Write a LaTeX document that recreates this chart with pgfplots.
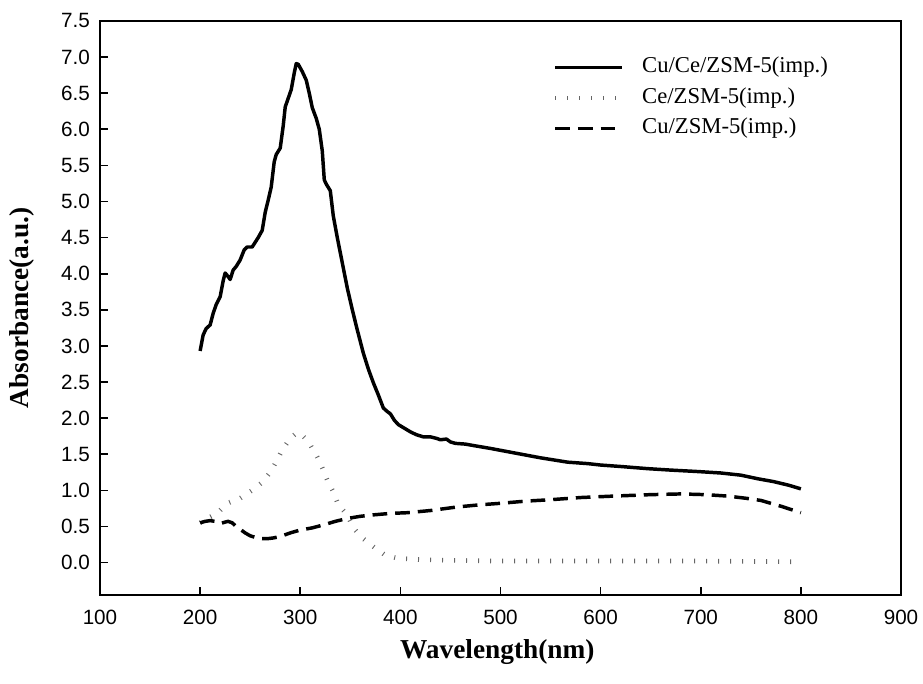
\documentclass[border=0pt]{standalone}
\usepackage{fontspec}
\setmainfont{Liberation Serif}
\newfontfamily\arialf{Liberation Sans}
\usepackage{pgfplots}
\pgfplotsset{compat=1.18}

\pgfplotstableread{
x y
200 2.93
203 3.15
206 3.24
210 3.29
213 3.45
216 3.57
220 3.68
223 3.90
225 4.01
228 3.96
230 3.92
233 4.05
236 4.10
240 4.19
244 4.33
247 4.37
252 4.37
258 4.50
262 4.60
265 4.85
268 5.02
271 5.20
274 5.55
276 5.65
280 5.74
283 6.05
285 6.31
288 6.43
291 6.55
294 6.78
296 6.91
298 6.90
302 6.80
306 6.68
309 6.50
312 6.30
316 6.15
319 6.00
322 5.70
324 5.30
326 5.24
330 5.15
333 4.80
337 4.50
342 4.15
347 3.80
352 3.50
357 3.22
363 2.90
368 2.68
373 2.49
378 2.32
383 2.14
387 2.09
390 2.06
394 1.97
398 1.91
404 1.86
410 1.81
416 1.77
423 1.74
430 1.74
436 1.72
440 1.70
446 1.71
450 1.67
455 1.65
465 1.64
473 1.62
490 1.58
513 1.52
540 1.45
567 1.39
587 1.37
600 1.35
620 1.33
647 1.30
670 1.28
697 1.26
720 1.24
740 1.21
757 1.16
773 1.12
788 1.07
800 1.02
}\cuce

\pgfplotstableread{
x y
200 0.55
207 0.61
217 0.68
227 0.82
240 0.89
252 1.00
262 1.11
270 1.25
277 1.42
282 1.56
290 1.72
296 1.79
300 1.79
305 1.72
310 1.63
317 1.46
322 1.31
327 1.14
333 0.98
338 0.80
347 0.66
353 0.48
362 0.34
373 0.22
385 0.10
397 0.06
420 0.04
450 0.03
500 0.02
600 0.02
700 0.02
800 0.01
}\ce

\pgfplotstableread{
x y
200 0.55
205 0.57
210 0.58
215 0.57
220 0.54
225 0.56
228 0.57
232 0.55
236 0.50
241 0.45
245 0.41
250 0.37
257 0.34
262 0.33
267 0.33
273 0.34
280 0.36
290 0.41
300 0.45
312 0.48
323 0.52
335 0.57
347 0.61
360 0.64
373 0.66
390 0.68
407 0.69
430 0.72
457 0.77
480 0.80
500 0.82
525 0.85
550 0.87
580 0.90
613 0.92
650 0.94
680 0.95
705 0.94
727 0.92
745 0.89
760 0.86
780 0.78
800 0.69
}\cu

\begin{document}
\begin{tikzpicture}
\useasboundingbox (-75pt,-66pt) rectangle (617.25pt,446.25pt);
\begin{axis}[
  name=ax,
  scale only axis,
  width=600.75pt, height=430.5pt,
  at={(0pt,0pt)}, anchor=south west,
  xmin=100, xmax=900, ymin=-0.45, ymax=7.5,
  xtick={100,200,...,900},
  ytick={0,0.5,...,7.5},
  xtick pos=bottom, ytick pos=left,
  tick align=inside,
  major tick length=6pt,
  axis line style={line width=1.2pt},
  every tick/.style={line width=1.2pt, black},
  /pgf/number format/assume math mode=true,
  ticklabel style={font=\arialf\fontsize{15.5}{18}\selectfont},
  xticklabel style={yshift=-7.5pt, /pgf/number format/1000 sep={}},
  yticklabel style={xshift=-4pt, /pgf/number format/.cd, fixed, fixed zerofill, precision=1},
  xlabel={Wavelength(nm)},
  ylabel={Absorbance(a.u.)},
  label style={font=\bfseries\fontsize{20.5}{24}\selectfont},
  xlabel style={at={(axis description cs:0.496,-0.099)}, anchor=center},
  ylabel style={at={(axis description cs:-0.0974,0.5)}, anchor=center},
  legend style={at={(axis cs:552,7.01)}, anchor=north west, draw=none, fill=none,
    inner sep=0pt, row sep=7pt,
    font=\fontsize{17}{20}\selectfont,
    nodes={inner sep=0pt, text height=12pt, text depth=4pt},
    /tikz/every odd column/.append style={column sep=13.5pt}},
  legend cell align=left,
  legend image code/.code={\draw[#1] (0pt,0pt) -- (50pt,0pt);},
]
\addplot[black, line width=2.6pt, line join=round] table[x=x,y=y]{\cuce};
\addlegendentry{Cu/Ce/ZSM-5(imp.)}
\addplot[black!60, line width=3.5pt, dash pattern=on 0.7pt off 8.3pt] table[x=x,y=y]{\ce};
\addlegendentry{Ce/ZSM-5(imp.)}
\addplot[black, line width=2.6pt, dash pattern=on 11pt off 6pt] table[x=x,y=y]{\cu};
\addlegendentry{Cu/ZSM-5(imp.)}
\end{axis}
\draw[black, line width=1.2pt, line cap=rect] (0pt,430.5pt) -- (600.75pt,430.5pt) -- (600.75pt,0pt);
\end{tikzpicture}
\end{document}
